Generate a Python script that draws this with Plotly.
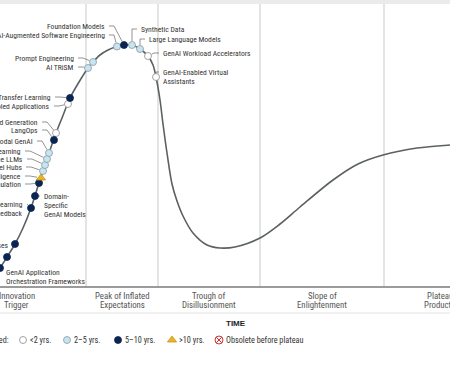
import plotly.graph_objects as go

# ---------------- data ----------------
# Hype-cycle curve: time (x) vs expectations (y)
curve_time = [-14, 0, 7, 15, 23, 31, 39, 47, 56, 62, 70, 79, 88, 93, 100, 108, 117, 124, 132,
              140, 148, 153, 156, 160, 163, 167, 172, 177, 183, 193, 207, 220, 235, 260, 280,
              300, 333, 358, 383, 417, 450, 470]
curve_expect = [0, 20, 31, 44, 60, 80, 105, 129, 155, 170, 190, 206, 220, 226, 233, 238, 241.5, 243, 243,
                239, 232, 223, 211, 188, 164, 135, 104, 87, 72, 55, 43, 40, 41, 50, 64,
                81, 108, 124, 133, 140, 143, 144]

tech_names = [
    "GenAI Application<br>Orchestration Frameworks", "Autonomous Agents", "Vector Databases",
    "Reinforcement Learning<br>From Human Feedback", "Domain-<br>Specific<br>GenAI Models",
    "AI Simulation", "Artificial General Intelligence", "Model Hubs", "Open-Source LLMs",
    "Federated Learning", "Multimodal GenAI", "LangOps", "Retrieval-Augmented Generation",
    "GenAI-Enabled Applications", "Transfer Learning", "AI TRiSM", "Prompt Engineering",
    "AI-Augmented Software Engineering", "Foundation Models", "Synthetic Data",
    "Large Language Models", "GenAI Workload Accelerators", "GenAI-Enabled Virtual<br>Assistants",
]
tech_time = [0, 7, 15, 31, 35, 39, 41, 43, 45, 47, 49, 54, 56, 68, 70, 88, 93, 117, 124, 132, 140, 148, 156]
tech_expect = [20, 31, 44, 80, 92, 105, 110, 117, 123, 129, 135, 148, 155, 184, 190, 220, 226, 241.5, 243, 243, 239, 232, 211]
tech_years = ["5-10", "5-10", "5-10", "5-10", "5-10", "5-10", ">10", "2-5", "2-5", "2-5", "2-5", "5-10", "<2",
              "<2", "5-10", "2-5", "2-5", "2-5", "5-10", "2-5", "2-5", "<2", "<2"]

phase_names = ["Innovation<br>Trigger", "Peak of Inflated<br>Expectations", "Trough of<br>Disillusionment",
               "Slope of<br>Enlightenment", "Plateau of<br>Productivity"]
phase_bounds = [-53, 86, 158, 260, 384, 506]

legend_title = "Plateau will be reached:"
legend_keys = ["<2", "2-5", "5-10", ">10", "obsolete"]
legend_texts = ["<2 yrs.", "2\u20135 yrs.", "5\u201310 yrs.", ">10 yrs.", "Obsolete before plateau"]

# ---------------- styling / label placement ----------------
label_pos = {  # side, x, y of first text line
    "GenAI Application<br>Orchestration Frameworks": ("R", 4, 16),
    "Autonomous Agents": ("L", 2, 30),
    "Vector Databases": ("L", 10, 43),
    "Reinforcement Learning<br>From Human Feedback": ("L", 25, 84),
    "Domain-<br>Specific<br>GenAI Models": ("R", 42, 92),
    "AI Simulation": ("L", 23, 104),
    "Artificial General Intelligence": ("L", 23, 112),
    "Model Hubs": ("L", 24, 121),
    "Open-Source LLMs": ("L", 25, 129),
    "Federated Learning": ("L", 23, 137),
    "Multimodal GenAI": ("L", 35, 147),
    "LangOps": ("L", 40, 158),
    "Retrieval-Augmented Generation": ("L", 40, 166),
    "GenAI-Enabled Applications": ("L", 52, 182),
    "Transfer Learning": ("L", 53, 191),
    "AI TRiSM": ("L", 76, 221),
    "Prompt Engineering": ("L", 76, 230),
    "AI-Augmented Software Engineering": ("L", 107, 253),
    "Foundation Models": ("L", 107, 262),
    "Synthetic Data": ("R", 139, 259),
    "Large Language Models": ("R", 147, 249),
    "GenAI Workload Accelerators": ("R", 161, 235),
    "GenAI-Enabled Virtual<br>Assistants": ("R", 161, 216),
}

STYLE = {
    "<2": dict(symbol="circle", color="#ffffff", line="#8c8c8c", size=7),
    "2-5": dict(symbol="circle", color="#c6e4f1", line="#8c9aa0", size=7),
    "5-10": dict(symbol="circle", color="#0b2452", line="#0b2452", size=7),
    ">10": dict(symbol="triangle-up", color="#e8b526", line="#c8961a", size=8),
    "obsolete": dict(symbol="circle-x", color="#ffffff", line="#d0312d", size=8),
}

FONT = "Liberation Sans Narrow, Roboto Condensed, DejaVu Sans Condensed, Arial Narrow, Roboto, sans-serif"
TXT = "#333333"

fig = go.Figure()

# top band
fig.add_shape(type="rect", xref="paper", x0=0, x1=1, y0=284, y1=289,
              fillcolor="#ebebeb", line_width=0, layer="below")
# phase separators
for b in phase_bounds[1:-1]:
    fig.add_shape(type="line", x0=b, x1=b, y0=1, y1=284,
                  line=dict(color="#c9c9c9", width=1), layer="below")
# baseline axis
fig.add_shape(type="line", xref="paper", x0=0, x1=1, y0=1, y1=1,
              line=dict(color="#7a7a7a", width=1.4))
# faint line under phase names
fig.add_shape(type="line", xref="paper", x0=0, x1=1, y0=-25, y1=-25,
              line=dict(color="#e2e2e2", width=1))

# curve
fig.add_trace(go.Scatter(x=curve_time, y=curve_expect, mode="lines",
                         line=dict(color="#5b6163", width=1.6, shape="spline", smoothing=0.9),
                         hoverinfo="skip"))

# leader lines
for name, t, e in zip(tech_names, tech_time, tech_expect):
    side, lx, ly = label_pos[name]
    if side == "L":
        p0 = (lx + 2, ly)
        p1x = min(lx + 7, t)
        use_p1 = p1x > p0[0] + 0.5
    else:
        p0 = (lx - 2, ly)
        p1x = max(lx - 7, t)
        use_p1 = p1x < p0[0] - 0.5
    pts = [p0]
    p1 = (p1x, ly)
    if use_p1 and ((p1[0] - t) ** 2 + (p1[1] - e) ** 2) ** 0.5 > 4:
        pts.append(p1)
    last = pts[-1]
    dx, dy = t - last[0], e - last[1]
    d = (dx * dx + dy * dy) ** 0.5
    if d > 4:
        pts.append((t - 4 * dx / d, e - 4 * dy / d))
    if len(pts) >= 2:
        path = "M " + " L ".join(f"{x:.2f},{y:.2f}" for x, y in pts)
        fig.add_shape(type="path", path=path, line=dict(color="#666666", width=0.7))

# dots by maturity
for key in ["<2", "2-5", "5-10", ">10"]:
    st = STYLE[key]
    xs = [t for t, k in zip(tech_time, tech_years) if k == key]
    ys = [e for e, k in zip(tech_expect, tech_years) if k == key]
    fig.add_trace(go.Scatter(x=xs, y=ys, mode="markers",
                             marker=dict(symbol=st["symbol"], color=st["color"], size=st["size"],
                                         line=dict(color=st["line"], width=0.8)),
                             hoverinfo="skip"))

# labels
for name in tech_names:
    side, lx, ly = label_pos[name]
    for i, line in enumerate(name.split("<br>")):
        fig.add_annotation(x=lx, y=ly - 9 * i, text=line, showarrow=False,
                           xanchor="right" if side == "L" else "left", yanchor="middle",
                           font=dict(family=FONT, size=7.6, color=TXT))

# phase names
for i, ph in enumerate(phase_names):
    cx = (phase_bounds[i] + phase_bounds[i + 1]) / 2
    for j, line in enumerate(ph.split("<br>")):
        fig.add_annotation(x=cx, y=-8 - 9 * j, text=line, showarrow=False,
                           xanchor="center", yanchor="middle",
                           font=dict(family=FONT, size=8.8, color="#555555"))

# axis title
fig.add_annotation(x=236, y=-35, text="<b>TIME</b>", showarrow=False, xanchor="center", yanchor="middle",
                   font=dict(family="Liberation Sans, Arial, sans-serif", size=8, color="#222222"))

# legend row
LEG_Y = -52
fig.add_annotation(x=11, y=LEG_Y, text=legend_title, showarrow=False, xanchor="right", yanchor="middle",
                   font=dict(family=FONT, size=8.2, color=TXT))
leg_sym_x = [23, 67, 118, 172, 219]
for key, txt, sx in zip(legend_keys, legend_texts, leg_sym_x):
    st = STYLE[key]
    fig.add_trace(go.Scatter(x=[sx], y=[LEG_Y], mode="markers", cliponaxis=False,
                             marker=dict(symbol=st["symbol"], color=st["color"], size=st["size"],
                                         line=dict(color=st["line"], width=1 if key == "obsolete" else 0.8)),
                             hoverinfo="skip"))
    fig.add_annotation(x=sx + 5, y=LEG_Y, text=txt, showarrow=False, xanchor="left", yanchor="middle",
                       font=dict(family=FONT, size=8.2, color=TXT))

fig.update_layout(
    width=450, height=375,
    margin=dict(l=0, r=0, t=0, b=0),
    paper_bgcolor="white", plot_bgcolor="white",
    showlegend=False,
    xaxis=dict(range=[0, 450], visible=False, fixedrange=True),
    yaxis=dict(range=[-87, 288], visible=False, fixedrange=True),
)

fig.write_html("out.html", config={"displayModeBar": False},
               post_script="document.body.style.margin='0';document.body.style.overflow='hidden';")
